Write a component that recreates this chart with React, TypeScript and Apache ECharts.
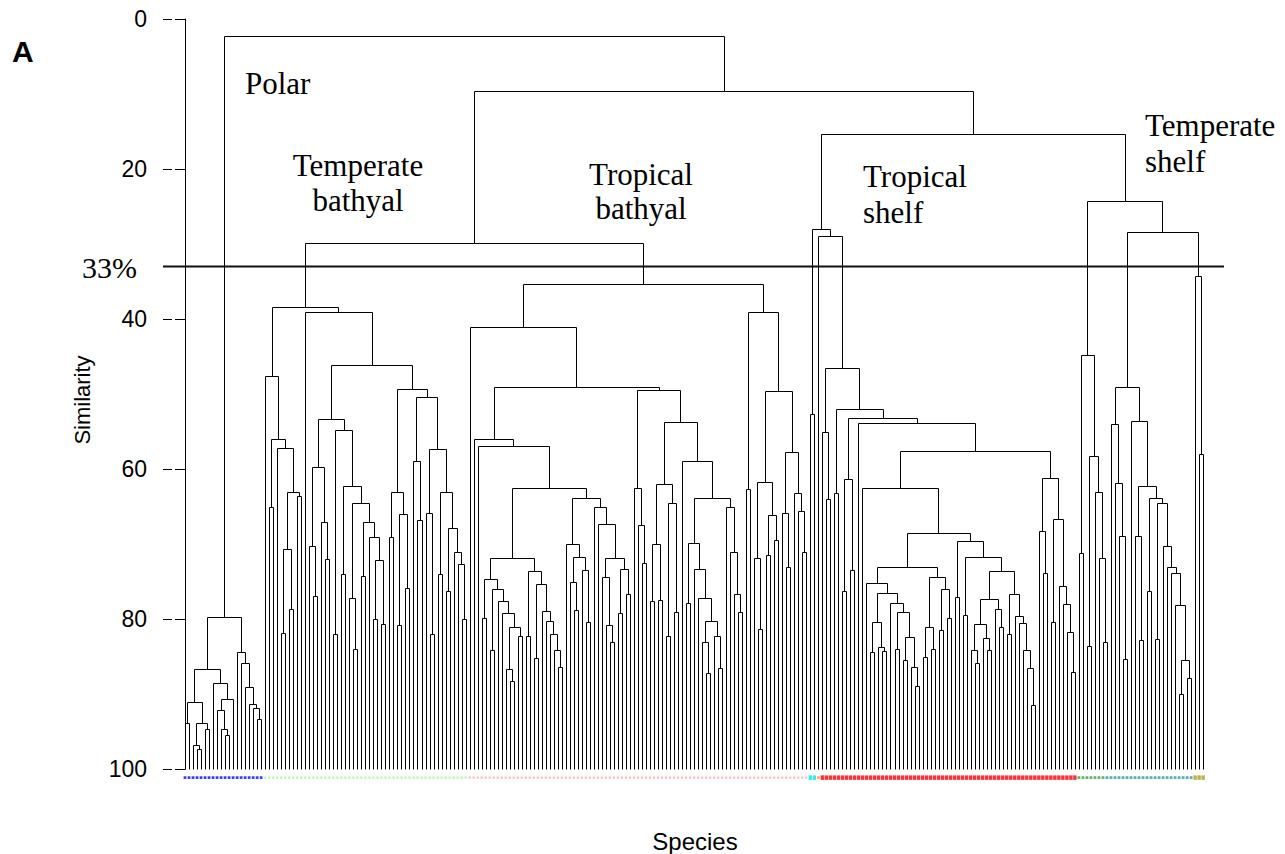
import React, { useEffect, useRef } from "react";
import * as echarts from "echarts";

// Similarity level (%) at which each pair of neighbouring leaves is joined (read left to right)
const polarJoins = [93.8, 91.0, 96.8, 97.3, 93.8, 94.6, 86.7, 88.5, 92.1, 94.6, 95.5, 90.7, 79.7, 84.4, 85.9, 89.0, 91.3, 91.8, 93.3];
const temperateBathyalJoins = [
  47.6, 65.1, 56.0, 57.2, 81.8, 70.7, 78.6, 63.0, 63.6, 38.4,
  39.0, 70.2, 76.9, 59.7, 67.0, 72.0, 53.3, 82.0, 54.8, 74.0,
  62.2, 77.2, 84.0, 64.5, 74.2, 67.0, 69.1, 80.0, 72.1, 80.6,
  46.1, 69.1, 63.0, 80.8, 66.0, 75.8, 49.3, 58.9, 66.8, 50.4,
  65.8, 82.0, 57.3, 74.0, 63.0, 76.2, 67.8, 71.0, 72.7, 80.0,
];
const tropicalBathyalJoins = [
  41.1, 56.0, 56.9, 79.9, 74.6, 84.1, 76.0, 77.6, 79.2, 86.6,
  88.2, 81.1, 82.2, 71.9, 82.3, 73.6, 85.2, 75.3, 78.9, 80.2,
  82.0, 84.1, 86.4, 62.5, 70.0, 75.0, 78.8, 71.7, 73.5, 80.4,
  63.8, 65.0, 67.3, 74.4, 80.8, 83.0, 71.9, 79.2, 73.3, 76.7,
  49.0, 62.5, 67.4, 72.5, 49.5, 77.6, 70.0, 77.5, 62.0, 82.2,
  64.5, 79.0, 53.7, 58.9, 77.9, 69.9, 73.3, 77.2, 83.1, 87.2,
  80.3, 82.3, 86.5, 63.8, 65.0, 71.0, 76.7, 79.1, 35.3, 62.7,
  39.1, 71.9, 81.3, 61.7, 71.4, 66.1, 69.4, 49.6, 65.9, 73.0,
  57.7, 63.2, 65.6, 71.0,
];
const tropicalShelfJoins = [
  52.6, 28.0, 28.9, 55.0, 64.0, 46.5, 63.2, 52.0, 76.3, 61.3,
  73.4, 53.2, 53.8, 62.5, 75.2, 84.4, 80.4, 83.7, 84.3, 76.5,
  77.9, 84.0, 79.0, 85.4, 82.4, 86.4, 88.9, 73.0, 85.0, 81.1,
  84.0, 74.4, 81.4, 76.0, 79.8, 68.5, 77.1, 69.6, 79.5, 71.7,
  84.1, 85.9, 80.7, 82.5, 84.1, 77.3, 78.6, 81.1, 73.6, 82.0,
  76.7, 79.6, 80.5, 84.1, 86.5, 91.5, 57.6, 68.2, 73.8, 61.2,
  80.4, 66.6, 75.6, 78.0, 81.7, 87.0,
];
const temperateShelfJoins = [
  71.2, 44.8, 83.6, 58.2, 63.1, 71.8, 83.0, 24.3, 54.0, 61.8,
  68.9, 85.3, 49.1, 53.6, 68.9, 82.8, 62.2, 76.3, 63.9, 82.6,
  64.6, 70.3, 73.1, 73.8, 78.1, 90.0, 85.5, 87.9, 28.4, 34.2,
  58.0,
];
// joins between the five clusters (polar|temp. bathyal, temp.|trop. bathyal, bathyal|shelf, trop.|temp. shelf)
const clusterJoins = [2.3, 29.9, 9.6, 15.3];

const markerGroupSizes = [20, 51, 85, 2, 1, 64, 7, 22, 3];
const markerGroupColors = ["#1010ff", "#90ff90", "#ffa8a8", "#00e8f0", "#ff9a40", "#ff0000", "#3ca03c", "#20a0a0", "#b0a020"];

const yTicks = [0, 20, 40, 60, 80, 100];
const cutLevel = 33;

const joinLevels = [
  ...polarJoins, clusterJoins[0],
  ...temperateBathyalJoins, clusterJoins[1],
  ...tropicalBathyalJoins, clusterJoins[2],
  ...tropicalShelfJoins, clusterJoins[3],
  ...temperateShelfJoins,
];
const leafCount = joinLevels.length + 1;

function buildTree(lo: number, hi: number, out: number[][]): { x: number; h: number } {
  if (lo === hi) return { x: lo, h: 100 };
  let k = lo;
  for (let i = lo; i < hi; i++) if (joinLevels[i] < joinLevels[k]) k = i;
  const L = buildTree(lo, k, out);
  const R = buildTree(k + 1, hi, out);
  const h = joinLevels[k];
  out.push([L.x, L.h, R.x, R.h, h]);
  return { x: (L.x + R.x) / 2, h };
}

const X_MIN = -5.49;
const X_MAX = 259.2;

export default function App() {
  const ref = useRef<HTMLDivElement>(null);
  useEffect(() => {
    if (!ref.current) return;
    const chart = echarts.init(ref.current, null, { renderer: "svg" });
    const nodes: number[][] = [];
    buildTree(0, leafCount - 1, nodes);

    const markerSeries: any[] = [];
    let start = 0;
    markerGroupSizes.forEach((n, g) => {
      const pts: number[][] = [];
      for (let i = start; i < start + n; i++) pts.push([i, 101.15]);
      start += n;
      const big = g === 5 || g === 3 || g === 8;
      const tiny = g === 1 || g === 2;
      markerSeries.push({
        type: "scatter",
        data: pts,
        symbol: "rect",
        symbolSize: big ? [3.4, 4.5] : tiny ? [2.2, 2.2] : [2.8, 2.8],
        itemStyle: { color: markerGroupColors[g] },
        clip: false,
        silent: true,
        z: 3,
      });
    });

    const serif = "'Liberation Serif', 'Times New Roman', serif";
    const sans = "'Liberation Sans', Arial, sans-serif";
    const labelText = (text: string, x: number, y: number, align: string, size = 31) => ({
      type: "text",
      x,
      y,
      style: { text, fontSize: size, fontFamily: serif, fill: "#000", textAlign: align, textVerticalAlign: "middle", align, verticalAlign: "middle" },
      z: 10,
    });

    chart.setOption({
      animation: false,
      grid: { left: 163, top: 19, width: 1061, height: 750 },
      xAxis: { type: "value", min: X_MIN, max: X_MAX, show: false },
      yAxis: [
        {
          type: "value",
          inverse: true,
          min: yTicks[0],
          max: yTicks[yTicks.length - 1],
          interval: 20,
          axisLine: { show: true, lineStyle: { color: "#000", width: 1 } },
          axisTick: { show: true, length: 10, lineStyle: { color: "#000", width: 1 } },
          axisLabel: { color: "#000", fontSize: 23, fontFamily: sans, margin: 16 },
          splitLine: { show: false },
        },
        {
          type: "value",
          inverse: true,
          min: yTicks[0],
          max: yTicks[yTicks.length - 1],
          interval: 20,
          position: "left",
          axisLine: { show: false },
          axisTick: { show: true, inside: true, length: 9, lineStyle: { color: "#000", width: 1 } },
          axisLabel: { show: false },
          splitLine: { show: false },
        },
      ],
      series: [
        {
          type: "custom",
          coordinateSystem: "cartesian2d",
          data: nodes,
          encode: { x: [0, 2], y: [1, 3, 4] },
          silent: true,
          renderItem: (params: any, api: any) => {
            const c = (x: number, y: number) => {
              const p = api.coord([x, y]);
              return [Math.round(p[0]) + 0.5, Math.round(p[1]) + 0.5];
            };
            return {
              type: "polyline",
              shape: {
                points: [
                  c(api.value(0), api.value(1)),
                  c(api.value(0), api.value(4)),
                  c(api.value(2), api.value(4)),
                  c(api.value(2), api.value(3)),
                ],
              },
              style: { stroke: "#000", fill: null, lineWidth: 1 },
            };
          },
        },
        {
          type: "line",
          data: [[X_MIN, cutLevel], [X_MAX, cutLevel]],
          symbol: "none",
          lineStyle: { color: "#111", width: 2 },
          silent: true,
          z: 4,
        },
        ...markerSeries,
      ],
      graphic: [
        { type: "text", x: 12, y: 51, style: { text: "A", fontSize: 30, fontWeight: "bold", fontFamily: sans, fill: "#000", textVerticalAlign: "middle", verticalAlign: "middle" } },
        labelText("Polar", 245, 83, "left"),
        labelText("Temperate", 358, 165, "center"),
        labelText("bathyal", 358, 200, "center"),
        labelText("Tropical", 641, 174, "center"),
        labelText("bathyal", 641, 208, "center"),
        labelText("Tropical", 863, 176, "left"),
        labelText("shelf", 863, 212, "left"),
        labelText("Temperate", 1145, 125, "left"),
        labelText("shelf", 1145, 161, "left"),
        labelText("33%", 137, 267, "right", 30),
        {
          type: "text",
          x: 82,
          y: 400,
          rotation: Math.PI / 2,
          style: { text: "Similarity", fontSize: 22, fontFamily: sans, fill: "#000", textAlign: "center", textVerticalAlign: "middle", align: "center", verticalAlign: "middle" },
        },
        {
          type: "text",
          x: 695,
          y: 841,
          style: { text: "Species", fontSize: 24, fontFamily: sans, fill: "#000", textAlign: "center", textVerticalAlign: "middle", align: "center", verticalAlign: "middle" },
        },
      ],
    });
    return () => chart.dispose();
  }, []);
  return <div ref={ref} style={{ position: "absolute", left: 0, top: 0, width: 1285, height: 854 }} />;
}
